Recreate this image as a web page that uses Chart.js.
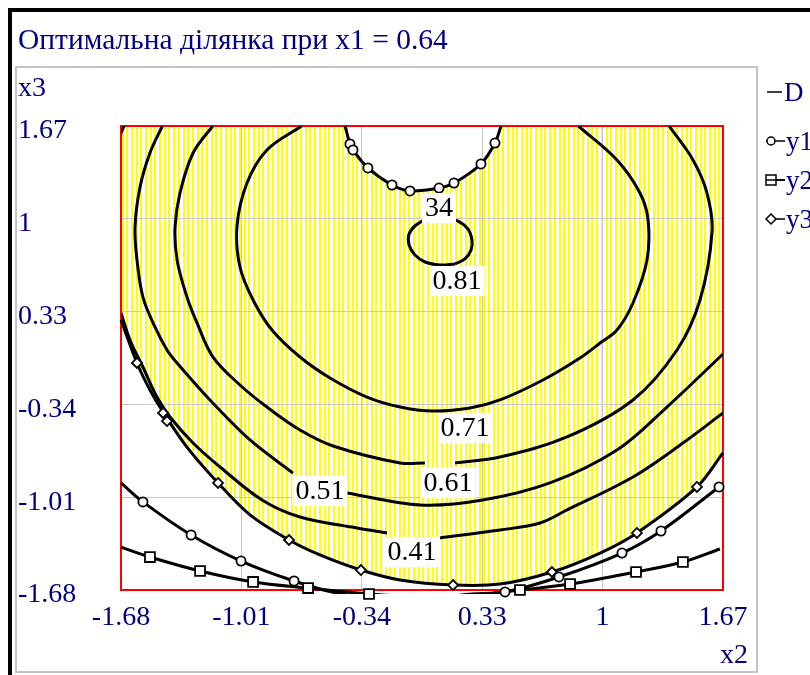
<!DOCTYPE html>
<html>
<head>
<meta charset="utf-8">
<title>Оптимальна ділянка при x1 = 0.64</title>
<script src="https://cdn.jsdelivr.net/npm/chart.js@4.4.1/dist/chart.umd.min.js"></script>
<style>
  html, body { margin: 0; padding: 0; background: #fff; }
  #wrap { width: 810px; height: 675px; position: relative; }
</style>
</head>
<body>
<div id="wrap"><canvas id="contourChart"></canvas></div>
<script>
// axis ticks (x2 horizontal, x3 vertical)
const xTicks = [-1.68, -1.01, -0.34, 0.33, 1, 1.67];
const xTickLabels = ['-1.68', '-1.01', '-0.34', '0.33', '1', '1.67'];
const yTicks = [-1.68, -1.01, -0.34, 0.33, 1, 1.67];
const yTickLabels = ['-1.68', '-1.01', '-0.34', '0.33', '1', '1.67'];

// contour lines of D as [x2, x3]; null = break in the line
const d081 = [[0.179,0.674],[0.234,0.710],[0.268,0.775],[0.273,0.847],[0.251,0.926],[0.195,0.984],[0.117,1.006],[0.028,0.999],[-0.038,0.955],[-0.077,0.890],[-0.077,0.811],[-0.044,0.739],[0.012,0.688],[0.095,0.667],[0.179,0.674]];
const d071 = [[-0.675,1.67],[-0.868,1.497],[-0.979,1.258],[-1.035,0.941],[-1.018,0.652],[-0.945,0.414],[-0.840,0.197],[-0.684,0.002],[-0.517,-0.149],[-0.311,-0.287],[-0.127,-0.359],[0.056,-0.388],[0.262,-0.366],[0.429,-0.308],[0.668,-0.164],[0.874,-0.005],[0.986,0.103],[1.080,0.197],[1.169,0.392],[1.247,0.703],[1.253,0.991],[1.208,1.186],[1.080,1.425],[0.865,1.67]];
const d061 = [[-1.17,1.67],[-1.279,1.475],[-1.352,1.186],[-1.379,0.941],[-1.368,0.703],[-1.313,0.435],[-1.257,0.248],[-1.168,0.002],[-1.018,-0.200],[-0.868,-0.359],[-0.684,-0.525],[-0.500,-0.640],[-0.127,-0.763],[0.011,-0.763],null,[0.179,-0.763],[0.429,-0.720],[0.802,-0.575],[1.169,-0.308],[1.414,0.053],[1.542,0.414],[1.609,0.905],[1.581,1.186],[1.503,1.425],[1.37,1.67]];
const d051 = [[-1.45,1.67],[-1.519,1.475],[-1.574,1.230],[-1.602,0.941],[-1.591,0.703],[-1.558,0.435],[-1.491,0.219],[-1.424,0.053],[-1.368,-0.041],[-1.185,-0.308],[-0.962,-0.597],[-0.723,-0.836],null,[-0.422,-0.980],[-0.016,-1.066],[0.334,-1.030],[0.707,-0.907],[1.080,-0.669],[1.358,-0.359],[1.67,0.024]];
const d041 = [[-1.69,1.59],[-1.66,1.68],null,[-1.68,0.320],[-1.630,0.125],[-1.558,-0.070],[-1.480,-0.287],[-1.407,-0.431],[-1.279,-0.619],[-1.129,-0.792],[-0.895,-1.030],[-0.684,-1.153],[-0.367,-1.232],[-0.200,-1.268],null,[0.095,-1.304],[0.429,-1.247],[0.652,-1.196],[0.802,-1.102],[1.169,-0.864],[1.447,-0.619],[1.67,-0.402]];

// constraint curves y1, y2, y3 and their marker points
const y1Upper = [[-0.433,1.67],[-0.406,1.540],[-0.389,1.497],[-0.306,1.367],[-0.172,1.244],[-0.072,1.201],[0.090,1.222],[0.173,1.258],[0.323,1.396],[0.401,1.547],[0.435,1.67]];
const y1Lower = [[-1.68,-0.907],[-1.558,-1.044],[-1.290,-1.283],[-1.012,-1.471],[-0.717,-1.615],[-0.478,-1.702],[-0.127,-1.759],[0.273,-1.709],[0.457,-1.694],[0.757,-1.586],[1.108,-1.413],[1.325,-1.254],[1.648,-0.936]];
const y1Marks = [[-0.406,1.540],[-0.389,1.497],[-0.306,1.367],[-0.172,1.244],[-0.072,1.201],[0.090,1.222],[0.173,1.258],[0.323,1.396],[0.401,1.547],[-1.558,-1.044],[-1.290,-1.283],[-1.012,-1.471],[-0.717,-1.615],[0.457,-1.694],[0.757,-1.586],[1.108,-1.413],[1.325,-1.254],[1.648,-0.936]];
const y2Line = [[-1.68,-1.370],[-1.519,-1.442],[-1.240,-1.543],[-0.945,-1.622],[-0.639,-1.666],[-0.300,-1.709],[0.123,-1.730],[0.540,-1.680],[0.819,-1.637],[1.186,-1.550],[1.447,-1.478],[1.653,-1.384]];
const y2Marks = [[-1.519,-1.442],[-1.240,-1.543],[-0.945,-1.622],[-0.639,-1.666],[-0.300,-1.709],[0.540,-1.680],[0.819,-1.637],[1.186,-1.550],[1.447,-1.478]];
const y3Line = [[-1.68,0.269],[-1.591,-0.041],[-1.519,-0.236],[-1.446,-0.395],[-1.313,-0.648],[-1.140,-0.907],[-0.962,-1.138],[-0.745,-1.319],[-0.573,-1.427],[-0.345,-1.536],[-0.127,-1.608],[0.168,-1.644],[0.429,-1.637],[0.718,-1.550],[0.986,-1.413],[1.191,-1.268],[1.525,-0.936],[1.67,-0.69]];
const y3Marks = [[-1.591,-0.041],[-1.446,-0.402],[-1.424,-0.460],[-1.140,-0.907],[-0.745,-1.319],[-0.345,-1.536],[0.168,-1.644],[0.718,-1.550],[1.191,-1.268],[1.525,-0.936]];

// contour labels as they sit on the picture
const contourText = ['34', '0.81', '0.71', '0.61', '0.51', '0.41'];
const contourTextX = [0.090, 0.190, 0.234, 0.140, -0.573, -0.061];
const contourTextY = [1.078, 0.551, -0.510, -0.907, -0.965, -1.406];

const legendNames = ['D', 'y1', 'y2', 'y3'];

const NAVY = '#000080';
const SERIF = '"Times New Roman", "Liberation Serif", serif';

function pts(arr) {
    return arr.map(p => p ? { x: p[0], y: p[1] } : { x: null, y: null });
}

function toPixels(chart, arr) {
    const xs = chart.scales.x, ys = chart.scales.y;
    return arr.filter(p => p).map(p => [xs.getPixelForValue(p[0]), ys.getPixelForValue(p[1])]);
}

function interpY(poly, px) {
    for (let i = 1; i < poly.length; i++) {
        const a = poly[i - 1], b = poly[i];
        if (px >= Math.min(a[0], b[0]) && px <= Math.max(a[0], b[0])) {
            const t = b[0] === a[0] ? 0 : (px - a[0]) / (b[0] - a[0]);
            return a[1] + t * (b[1] - a[1]);
        }
    }
    return null;
}

const mathcadPlugin = {
    id: 'mathcadLook',
    beforeDraw(chart) {
        const ctx = chart.ctx, a = chart.chartArea;
        ctx.save();
        // black edges of the region and grey plot frame
        ctx.fillStyle = '#000';
        ctx.fillRect(8, 8, 802, 4);
        ctx.fillRect(8, 8, 4, 667);
        ctx.strokeStyle = '#c4c4c4';
        ctx.lineWidth = 2;
        ctx.strokeRect(16, 67, 741, 605);

        // yellow hatching of the feasible region: under y1 arc, above y3 curve
        const lower = toPixels(chart, y3Line);
        const upper = toPixels(chart, y1Upper);
        ctx.fillStyle = '#ffff00';
        for (let px = a.left + 0.5; px < a.right - 1; px += 4.7) {
            let top = a.top, bot = a.bottom;
            const yb = interpY(lower, px);
            if (yb !== null) bot = Math.min(bot, yb);
            const yt = interpY(upper, px);
            if (yt !== null) top = Math.max(top, yt);
            if (bot > top) ctx.fillRect(Math.round(px), top, 2, bot - top);
        }
        ctx.restore();
    },
    beforeDatasetsDraw(chart) {
        const ctx = chart.ctx, a = chart.chartArea;
        ctx.save();
        ctx.strokeStyle = '#ff0000';
        ctx.lineWidth = 2;
        ctx.strokeRect(a.left, a.top, a.right - a.left, a.bottom - a.top);
        ctx.restore();
    },
    afterDatasetsDraw(chart) {
        const ctx = chart.ctx, xs = chart.scales.x, ys = chart.scales.y;
        ctx.save();
        ctx.font = '28px ' + SERIF;
        ctx.textAlign = 'center';
        ctx.textBaseline = 'middle';
        contourText.forEach((t, i) => {
            const px = xs.getPixelForValue(contourTextX[i]);
            const py = ys.getPixelForValue(contourTextY[i]);
            const w = ctx.measureText(t).width + 6;
            ctx.fillStyle = '#fff';
            ctx.fillRect(px - w / 2, py - 15, w, 30);
            ctx.fillStyle = '#000';
            ctx.fillText(t, px, py + 1);
        });
        ctx.restore();
    },
    afterDraw(chart) {
        const ctx = chart.ctx;
        ctx.save();
        ctx.fillStyle = NAVY;
        ctx.textBaseline = 'middle';
        ctx.font = '29.5px ' + SERIF;
        ctx.textAlign = 'left';
        ctx.fillText('Оптимальна ділянка при x1 = 0.64', 18, 41);
        ctx.font = '28px ' + SERIF;
        ctx.fillText('x3', 18, 89);
        ctx.textAlign = 'right';
        ctx.fillText('x2', 748, 656);

        // legend
        ctx.font = '27px ' + SERIF;
        ctx.textAlign = 'left';
        ctx.textBaseline = 'alphabetic';
        const rows = [92, 141, 180, 219];
        ctx.strokeStyle = '#000';
        ctx.lineWidth = 1.5;
        rows.forEach((ry, i) => {
            ctx.beginPath();
            if (i === 0) {
                ctx.moveTo(767, ry); ctx.lineTo(782, ry);
            } else {
                ctx.moveTo(766, ry); ctx.lineTo(785, ry);
            }
            ctx.stroke();
            ctx.fillStyle = '#fff';
            ctx.beginPath();
            if (i === 1) {
                ctx.arc(771, ry, 4, 0, Math.PI * 2);
            } else if (i === 2) {
                ctx.rect(766, ry - 5, 10, 10);
            } else if (i === 3) {
                ctx.moveTo(771, ry - 5); ctx.lineTo(776, ry); ctx.lineTo(771, ry + 5); ctx.lineTo(766, ry);
                ctx.closePath();
            }
            if (i > 0) { ctx.fill(); ctx.stroke(); }
            if (i === 2) { ctx.beginPath(); ctx.moveTo(766, ry); ctx.lineTo(785, ry); ctx.stroke(); }
            ctx.fillStyle = NAVY;
            ctx.fillText(legendNames[i], i === 0 ? 784 : 786, ry + 9);
        });
        ctx.restore();
    }
};

function contour(data) {
    return {
        label: 'D', data: pts(data), borderColor: '#000', borderWidth: 3,
        pointRadius: 0, tension: 0.35, spanGaps: false, fill: false
    };
}

function constraintLine(name, data) {
    return {
        label: name, data: pts(data), borderColor: '#000', borderWidth: 3,
        pointRadius: 0, tension: 0.35, spanGaps: false, fill: false,
        clip: { left: 2, top: 2, right: 2, bottom: 4 }
    };
}

function markers(name, data, style, radius) {
    return {
        label: name, data: pts(data), showLine: false, pointStyle: style,
        pointRadius: radius, pointBackgroundColor: '#fff', pointBorderColor: '#000',
        pointBorderWidth: 1.8, clip: false
    };
}

document.addEventListener('DOMContentLoaded', function() {
    const ctx = document.getElementById('contourChart').getContext('2d');
    new Chart(ctx, {
        type: 'line',
        data: {
            datasets: [
                markers('y1', y1Marks, 'circle', 4.6),
                markers('y2', y2Marks, 'rect', 7),
                markers('y3', y3Marks, 'rectRot', 5),
                constraintLine('y1', y1Upper.concat([null], y1Lower)),
                constraintLine('y2', y2Line),
                constraintLine('y3', y3Line),
                contour(d081),
                contour(d071),
                contour(d061),
                contour(d051),
                contour(d041)
            ]
        },
        options: {
            responsive: true,
            maintainAspectRatio: false,
            animation: false,
            events: [],
            layout: { padding: { top: 126, left: 18, right: 87, bottom: 0 } },
            elements: { line: { capBezierPoints: false } },
            plugins: {
                legend: { display: false },
                tooltip: { enabled: false },
                title: { display: false }
            },
            scales: {
                x: {
                    type: 'linear',
                    min: -1.68,
                    max: 1.67,
                    afterBuildTicks: s => { s.ticks = xTicks.map(v => ({ value: v })); },
                    afterFit: s => { s.height = 85; },
                    border: { display: false },
                    grid: { color: '#c8c8c8', lineWidth: 1, drawTicks: false },
                    ticks: {
                        autoSkip: false, maxRotation: 0, padding: 11, color: NAVY,
                        font: { family: SERIF, size: 28 },
                        callback: (v, i) => xTickLabels[i]
                    }
                },
                y: {
                    type: 'linear',
                    min: -1.68,
                    max: 1.67,
                    afterBuildTicks: s => { s.ticks = yTicks.map(v => ({ value: v })); },
                    afterFit: s => { s.width = 103; },
                    border: { display: false },
                    grid: { color: '#c8c8c8', lineWidth: 1, drawTicks: false },
                    ticks: {
                        autoSkip: false, crossAlign: 'far', labelOffset: 5, color: NAVY,
                        font: { family: SERIF, size: 28 },
                        callback: (v, i) => yTickLabels[i]
                    }
                }
            }
        },
        plugins: [mathcadPlugin]
    });
});
</script>
</body>
</html>
